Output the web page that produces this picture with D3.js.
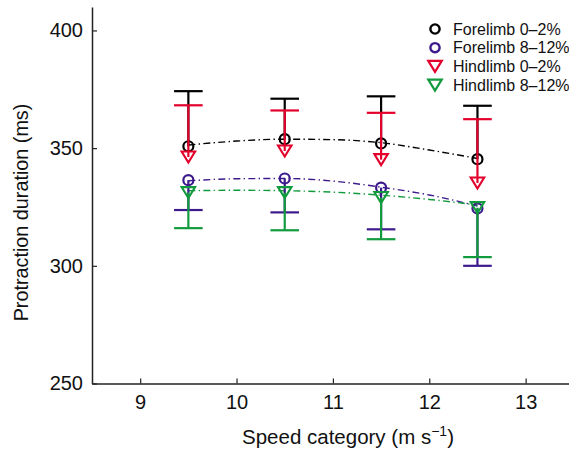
<!DOCTYPE html>
<html>
<head>
<meta charset="utf-8">
<script src="https://cdn.jsdelivr.net/npm/d3@7"></script>
<style>
  body { margin: 0; background: #fff; }
  svg { display: block; font-family: "Liberation Sans", Arial, sans-serif; }
</style>
</head>
<body>
<svg width="569" height="450"></svg>
<script>
// Speed categories (m/s)
const speeds = [9.5, 10.5, 11.5, 12.5];

// Means per series
const foreLow = [350.8, 353.8, 352.0, 345.3];
const foreHigh = [336.4, 337.1, 333.2, 324.4];
const hindLow = [346.2, 348.8, 345.1, 335.2];
const hindHigh = [331.1, 331.1, 329.0, 324.7];

// Error bar caps (one-sided)
const foreLowErr = [374.2, 371, 372, 368];
const foreHighErr = [323.7, 322.7, 315.5, 300];
const hindLowErr = [368.2, 366, 365, 362.3];
const hindHighErr = [316, 315.1, 311.3, 303.7];

// Fitted curves
const fitX = [9.5, 10, 10.5, 11, 11.5, 12, 12.5];
const foreLowFit = [351.3, 353, 353.8, 353.6, 352.3, 349.2, 345.6];
const foreHighFit = [336.1, 337, 337.1, 336, 333.4, 330.1, 325.4];
const hindHighFit = [331.9, 332.1, 331.9, 331.3, 330, 328.2, 325.8];

const xTicks = [9, 10, 11, 12, 13];
const yTicks = [250, 300, 350, 400];

const black = '#000000';
const purple = '#3d1a8c';
const red = '#e3002b';
const green = '#119b3d';

const series = [
    { name: 'Forelimb 0\u20132%', color: black, shape: 'circle', mean: foreLow, cap: foreLowErr, fit: foreLowFit },
    { name: 'Forelimb 8\u201312%', color: purple, shape: 'circle', mean: foreHigh, cap: foreHighErr, fit: foreHighFit },
    { name: 'Hindlimb 0\u20132%', color: red, shape: 'tri', mean: hindLow, cap: hindLowErr, fit: null },
    { name: 'Hindlimb 8\u201312%', color: green, shape: 'tri', mean: hindHigh, cap: hindHighErr, fit: hindHighFit }
];

const svg = d3.select('svg');
const plotLeft = 92, plotRight = 569, plotTop = 6.9, plotBottom = 383.5;

const x = d3.scaleLinear().domain([8.5, 13.45]).range([plotLeft, plotRight]);
const y = d3.scaleLinear().domain([250, 410]).range([plotBottom, plotTop]);

// Axes, ticks pointing inward
const yAxis = d3.axisLeft(y).tickValues(yTicks).tickSizeInner(-5).tickSizeOuter(0).tickPadding(9);
const xAxis = d3.axisBottom(x).tickValues(xTicks).tickFormat(d3.format('d'))
    .tickSizeInner(-5).tickSizeOuter(0).tickPadding(11);

const gy = svg.append('g').attr('transform', `translate(${plotLeft},0)`).call(yAxis);
const gx = svg.append('g').attr('transform', `translate(0,${plotBottom})`).call(xAxis);
[gx, gy].forEach(g => {
    g.select('.domain').attr('stroke', '#222').attr('stroke-width', 1.5);
    g.selectAll('.tick line').attr('stroke', '#222').attr('stroke-width', 1.2);
    g.selectAll('.tick text').attr('font-size', 20).attr('fill', '#111')
        .style('font-family', '"Liberation Sans", Arial, sans-serif');
});

// Axis titles
svg.append('text')
    .attr('transform', 'translate(28,212.5) rotate(-90)')
    .attr('text-anchor', 'middle')
    .attr('font-size', 19.8).attr('fill', '#111')
    .text('Protraction duration (ms)');

const xt = svg.append('text')
    .attr('x', 348).attr('y', 444)
    .attr('text-anchor', 'middle')
    .attr('font-size', 20.5).attr('fill', '#111');
xt.append('tspan').text('Speed category (m s');
xt.append('tspan').attr('font-size', 14).attr('dy', -8).text('\u22121');
xt.append('tspan').attr('dy', 8).text(')');

// Fitted dash-dot curves
const line = d3.line().x(d => x(d[0])).y(d => y(d[1])).curve(d3.curveMonotoneX);
series.filter(s => s.fit).forEach(s => {
    svg.append('path')
        .datum(fitX.map((v, i) => [v, s.fit[i]]))
        .attr('d', line)
        .attr('fill', 'none')
        .attr('stroke', s.color)
        .attr('stroke-width', 1.4)
        .attr('stroke-dasharray', '7,3.3,1.4,3.3');
});

const tri = (cx, cy, w, h) => `M${cx - w / 2},${cy - h / 2}L${cx + w / 2},${cy - h / 2}L${cx},${cy + h / 2}Z`;

// Error bars and markers
series.forEach(s => {
    const g = svg.append('g');
    const pts = speeds.map((v, i) => ({ x: v, m: s.mean[i], c: s.cap[i] }));
    g.selectAll('line.bar').data(pts).join('line').attr('class', 'bar')
        .attr('x1', d => x(d.x)).attr('x2', d => x(d.x))
        .attr('y1', d => y(d.m)).attr('y2', d => y(d.c))
        .attr('stroke', s.color).attr('stroke-width', 2.2);
    g.selectAll('line.cap').data(pts).join('line').attr('class', 'cap')
        .attr('x1', d => x(d.x) - 14.3).attr('x2', d => x(d.x) + 14.3)
        .attr('y1', d => y(d.c)).attr('y2', d => y(d.c))
        .attr('stroke', s.color).attr('stroke-width', 2.2);
    if (s.shape === 'circle') {
        g.selectAll('circle').data(pts).join('circle')
            .attr('cx', d => x(d.x)).attr('cy', d => y(d.m)).attr('r', 5)
            .attr('fill', 'none').attr('stroke', s.color).attr('stroke-width', 2.2);
    } else {
        g.selectAll('path').data(pts).join('path')
            .attr('d', d => tri(x(d.x), y(d.m), 13.5, 11))
            .attr('fill', 'none').attr('stroke', s.color).attr('stroke-width', 2.1);
    }
});

// Legend
const legend = svg.append('g').attr('transform', 'translate(435,29)');
series.forEach((s, i) => {
    const row = legend.append('g').attr('transform', `translate(0,${i * 18.7})`);
    if (s.shape === 'circle') {
        row.append('circle').attr('r', 4.6).attr('fill', 'none')
            .attr('stroke', s.color).attr('stroke-width', 2.4);
    } else {
        row.append('path').attr('d', tri(0, 0, 13.5, 11)).attr('fill', 'none')
            .attr('stroke', s.color).attr('stroke-width', 2.2);
    }
    row.append('text').attr('x', 18).attr('y', 5.6)
        .attr('font-size', 16).attr('fill', '#111')
        .text(s.name);
});
</script>
</body>
</html>
